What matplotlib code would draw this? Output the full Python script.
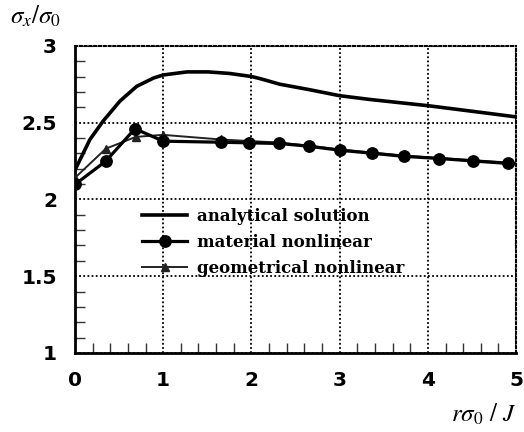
import matplotlib
matplotlib.use("Agg")
import matplotlib.pyplot as plt
from matplotlib.ticker import MultipleLocator

plt.rcParams["mathtext.fontset"] = "stix"

# Data
analytical_x = [0, 0.17, 0.32, 0.51, 0.70, 0.89, 1.0, 1.27, 1.51, 1.75, 2.0, 2.1, 2.32, 2.66, 3.0, 3.35, 4.0, 4.51, 5.0]
analytical_y = [2.19, 2.39, 2.51, 2.64, 2.736, 2.79, 2.81, 2.83, 2.83, 2.82, 2.80, 2.786, 2.75, 2.714, 2.675, 2.65, 2.61, 2.573, 2.537]

material_x = [0, 0.35, 0.68, 1.0, 1.65, 1.97, 2.31, 2.65, 3.0, 3.37, 3.73, 4.13, 4.51, 4.91, 5.0]
material_y = [2.097, 2.249, 2.46, 2.379, 2.372, 2.368, 2.364, 2.346, 2.32, 2.30, 2.28, 2.266, 2.25, 2.234, 2.23]

geometric_x = [0, 0.35, 0.69, 1.0, 1.65, 1.97, 2.31, 2.65, 3.0, 3.37, 3.73, 4.13, 4.51, 4.91, 5.0]
geometric_y = [2.14, 2.33, 2.407, 2.42, 2.39, 2.38, 2.37, 2.35, 2.325, 2.305, 2.285, 2.27, 2.255, 2.24, 2.235]

series_labels = ["analytical solution", "material nonlinear", "geometrical nonlinear"]
x_ticks = [0, 1, 2, 3, 4, 5]
y_ticks = [1, 1.5, 2, 2.5, 3]
y_tick_labels = ["1", "1.5", "2", "2.5", "3"]

fig = plt.figure(figsize=(5.24, 4.32), dpi=100)
ax = fig.add_axes([0.143, 0.183, 0.842, 0.711])

ax.plot(analytical_x, analytical_y, color="black", lw=2.6, label=series_labels[0], zorder=3)
ax.plot(material_x, material_y, color="black", lw=2.3, marker="o", ms=8.2,
        markevery=list(range(len(material_x) - 1)), label=series_labels[1], zorder=4)
ax.plot(geometric_x, geometric_y, color="#222222", lw=1.4, marker="^", ms=5.5,
        markevery=list(range(len(geometric_x) - 1)), label=series_labels[2], zorder=3.5)

ax.set_xlim(0, 5)
ax.set_ylim(1, 3)
ax.set_xticks(x_ticks)
ax.set_yticks(y_ticks)
ax.set_yticklabels(y_tick_labels)
ax.xaxis.set_minor_locator(MultipleLocator(0.2))
ax.yaxis.set_minor_locator(MultipleLocator(0.1))
ax.tick_params(which="major", direction="in", length=0, labelsize=14.5, pad=13)
for lab in ax.get_xticklabels() + ax.get_yticklabels():
    lab.set_fontweight("bold")
ax.tick_params(which="minor", direction="in", length=7, width=1.0, color="#333333")
ax.tick_params(axis="both", top=False, right=False)
ax.tick_params(which="minor", top=False, right=False)

ax.grid(True, which="major", color="black", linestyle=(0, (1, 1.3)), linewidth=1.3)
for s in ["left", "bottom"]:
    ax.spines[s].set_linewidth(2.0)
for s in ["top", "right"]:
    ax.spines[s].set_linestyle((0, (1, 1.3)))
    ax.spines[s].set_linewidth(1.5)

leg = ax.legend(loc="upper left", bbox_to_anchor=(0.134, 0.50), frameon=False,
                prop={"family": "DejaVu Serif", "weight": "bold", "size": 12},
                handlelength=2.7, handletextpad=0.6, labelspacing=0.55, borderpad=0)

fig.text(0.02, 0.962, r"$\sigma_x/\sigma_0$", fontsize=18, ha="left", va="center")
fig.text(0.985, 0.04, r"$r\sigma_0\ /\ J$", fontsize=18, ha="right", va="center")

fig.savefig("out.png", dpi=100)
